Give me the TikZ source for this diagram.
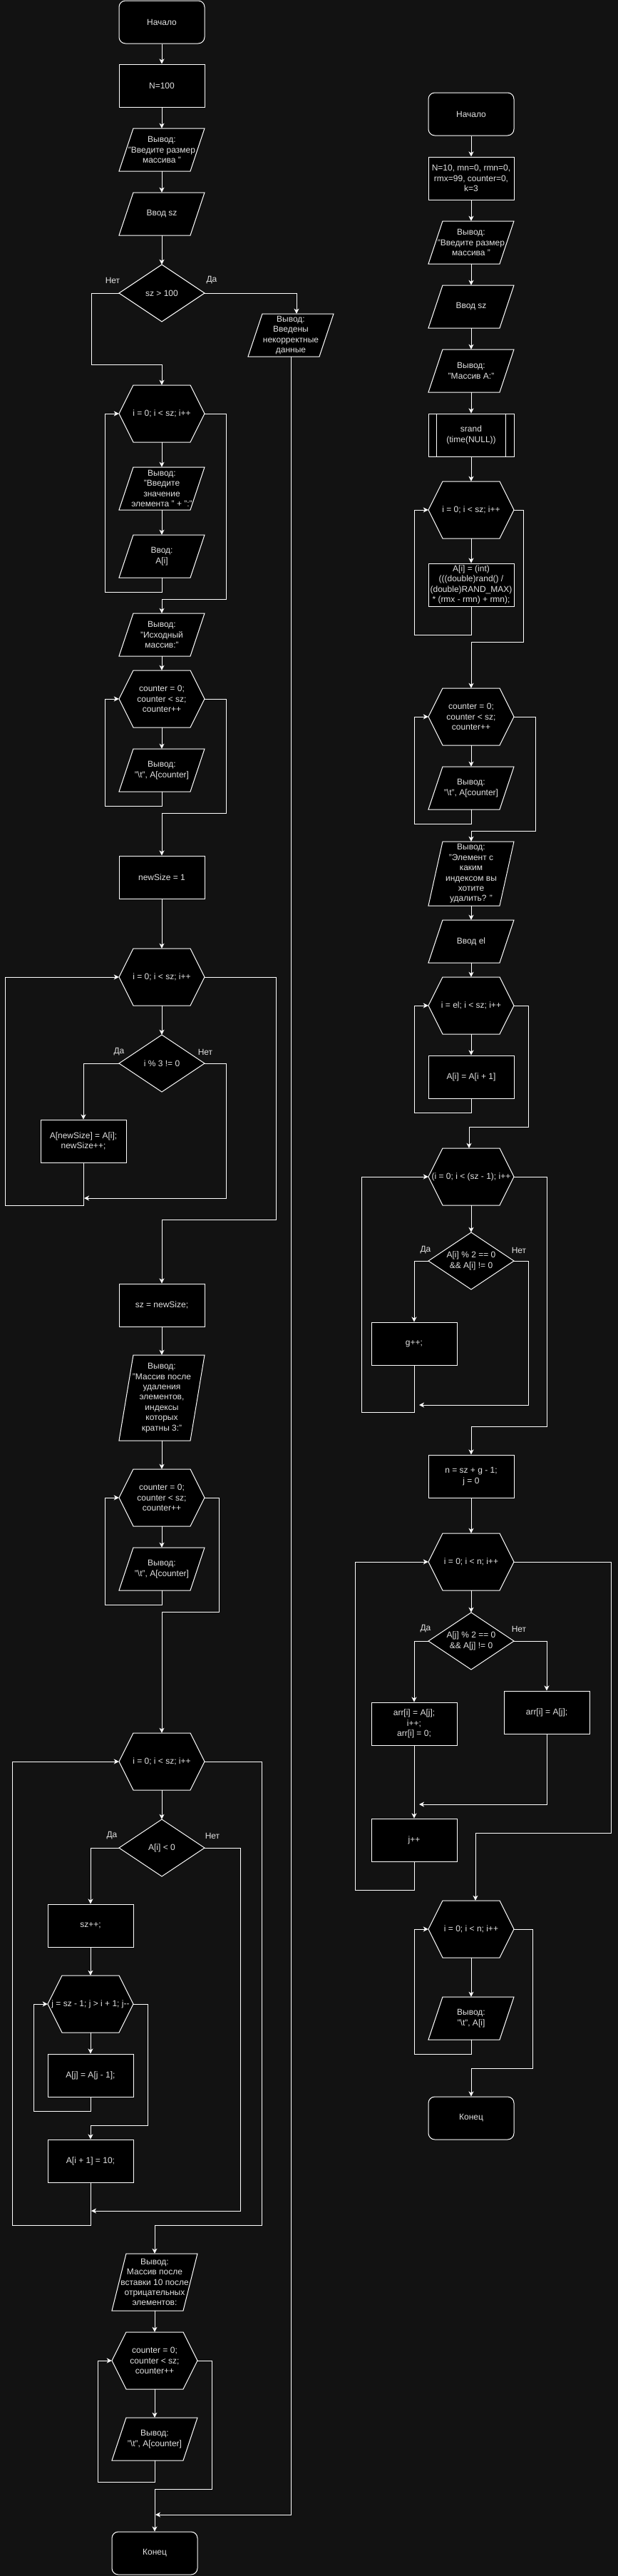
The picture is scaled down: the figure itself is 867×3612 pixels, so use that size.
\documentclass[tikz,border=0pt]{standalone}
\usepackage{fontspec}
\setmainfont{Liberation Sans}
\usetikzlibrary{arrows.meta}
\definecolor{bgc}{HTML}{121212}
\definecolor{txtc}{HTML}{E2E2E2}
\tikzset{
  shp/.style={draw=white, fill=black, line width=1pt},
  txt/.style={text=txtc, font=\fontsize{12}{14.4}\selectfont, align=center, inner sep=0pt},
  arr/.style={draw=white, line width=1pt, -{Stealth[length=7pt,width=7pt,inset=2pt]}},
  ln/.style={draw=white, line width=1pt},
  lbl/.style={text=txtc, font=\fontsize{12}{14.4}\selectfont, inner sep=0pt}
}
\newcommand\fcterm[4]{\node[shp,txt,rounded corners=9pt,minimum width=120pt,minimum height=60pt] (#1) at (#2,#3) {#4};}
\newcommand\fcproc[4]{\node[shp,txt,minimum width=120pt,minimum height=60pt] (#1) at (#2,#3) {#4};}
\newcommand\fcsub[4]{\fcproc{#1}{#2}{#3}{#4}\draw[ln] ([xshift=12pt]#1.north west) -- ([xshift=12pt]#1.south west) ([xshift=-12pt]#1.north east) -- ([xshift=-12pt]#1.south east);}
\newcommand\fcio[5]{\path[shp] (#2-60,#3+#4/2) -- (#2+40,#3+#4/2) -- (#2+60,#3-#4/2) -- (#2-40,#3-#4/2) -- cycle;
  \node[txt,minimum width=120pt,minimum height=#4pt] (#1) at (#2,#3) {#5};}
\newcommand\fchex[5]{\path[shp] (#2-60,#3) -- (#2-40,#3-#4/2) -- (#2+40,#3-#4/2) -- (#2+60,#3) -- (#2+40,#3+#4/2) -- (#2-40,#3+#4/2) -- cycle;
  \node[txt,minimum width=120pt,minimum height=#4pt] (#1) at (#2,#3) {#5};}
\newcommand\fcdia[5]{\path[shp] (#2-60,#3) -- (#2,#3-#4/2) -- (#2+60,#3) -- (#2,#3+#4/2) -- cycle;
  \node[txt,minimum width=120pt,minimum height=#4pt] (#1) at (#2,#3) {#5};}
\begin{document}
\begin{tikzpicture}[x=1pt,y=-1pt]
\useasboundingbox (0,0) rectangle (867,3612);
\fill[bgc] (0,0) rectangle (867,3612);

% ---------- left column ----------
\fcterm{L1}{227}{31}{Начало}
\fcproc{L2}{227}{120}{N=100}
\fcio{L3}{227}{210}{60}{Вывод:\\"Введите размер\\массива "}
\fcio{L4}{227}{300}{60}{Ввод sz}
\fcdia{L5}{227}{411}{80}{sz > 100}
\fcio{Lerr}{408}{470}{60}{Вывод:\\Введены\\некорректные\\данные}
\fchex{L6}{227}{580}{80}{i = 0; i < sz; i++}
\fcio{L7}{227}{685}{60}{Вывод:\\"Введите\\значение\\элемента " + ":"}
\fcio{L8}{227}{780}{60}{Ввод:\\A[i]}
\fcio{L9}{227}{890}{60}{Вывод:\\"Исходный\\массив:"}
\fchex{L10}{227}{980}{80}{counter = 0;\\counter < sz;\\counter++}
\fcio{L11}{227}{1080}{60}{Вывод:\\"\textbackslash t", A[counter]}
\fcproc{L12}{227}{1230}{newSize = 1}
\fchex{L13}{227}{1370}{80}{i = 0; i < sz; i++}
\fcdia{L14}{227}{1491}{80}{i \% 3 != 0}
\fcproc{L15}{117}{1600}{A[newSize] = A[i];\\newSize++;}
\fcproc{L16}{227}{1830}{sz = newSize;}
\fcio{L17}{227}{1960}{120}{Вывод:\\"Массив после\\удаления\\элементов,\\индексы\\которых\\кратны 3:"}
\fchex{L18}{227}{2100}{80}{counter = 0;\\counter < sz;\\counter++}
\fcio{L19}{227}{2200}{60}{Вывод:\\"\textbackslash t", A[counter]}
\fchex{L20}{227}{2470}{80}{i = 0; i < sz; i++}
\fcdia{L21}{227}{2591}{80}{A[i] < 0}
\fcproc{L22}{127}{2700}{sz++;}
\fchex{L23}{127}{2810}{80}{j = sz - 1; j > i + 1; j-{}-}
\fcproc{L24}{127}{2910}{A[j] = A[j - 1];}
\fcproc{L25}{127}{3030}{A[i + 1] = 10;}
\fcio{L26}{217}{3200}{80}{Вывод:\\Массив после\\вставки 10 после\\отрицательных\\элементов:}
\fchex{L27}{217}{3310}{80}{counter = 0;\\counter < sz;\\counter++}
\fcio{L28}{217}{3420}{60}{Вывод:\\"\textbackslash t", A[counter]}
\fcterm{L29}{217}{3580}{Конец}

\draw[arr] (L1.south) -- (L2.north);
\draw[arr] (L2.south) -- (L3.north);
\draw[arr] (L3.south) -- (L4.north);
\draw[arr] (L4.south) -- (L5.north);
\draw[arr] (L5.west) -| (128,511) -| (L6.north);
\draw[arr] (L5.east) -| ([xshift=8pt]Lerr.north);
\node[lbl] (t1) at (158,393) {Нет};
\node[lbl] (t2) at (297,393) {Да};
\draw[arr] (L6.south) -- (L7.north);
\draw[arr] (L7.south) -- (L8.north);
\draw[arr] (L8.south) |- (147,830) |- (L6.west);
\draw[arr] (L6.east) -| (317,840) -| (L9.north);
\draw[arr] (L9.south) -- (L10.north);
\draw[arr] (L10.south) -- (L11.north);
\draw[arr] (L11.south) |- (147,1130) |- (L10.west);
\draw[arr] (L10.east) -| (317,1140) -| (L12.north);
\draw[arr] (L12.south) -- (L13.north);
\draw[arr] (L13.south) -- (L14.north);
\draw[arr] (L14.west) -| (L15.north);
\node[lbl] (t3) at (167,1475) {Да};
\node[lbl] (t4) at (288,1475) {Нет};
\coordinate (m1) at (118,1680);
\draw[arr] (L14.east) -| (317,1680) -- (m1);
\draw[arr] (L15.south) |- (7,1690) |- (L13.west);
\draw[arr] (L13.east) -| (387,1710) -| (L16.north);
\draw[arr] (L16.south) -- (L17.north);
\draw[arr] (L17.south) -- (L18.north);
\draw[arr] (L18.south) -- (L19.north);
\draw[arr] (L19.south) |- (147,2250) |- (L18.west);
\draw[arr] (L18.east) -| (307,2260) -| (L20.north);
\draw[arr] (L20.south) -- (L21.north);
\draw[arr] (L21.west) -| (L22.north);
\node[lbl] (t5) at (157,2574) {Да};
\node[lbl] (t6) at (298,2574) {Нет};
\coordinate (m2) at (128,3100);
\draw[arr] (L21.east) -| (337,3100) -- (m2);
\draw[arr] (L22.south) -- (L23.north);
\draw[arr] (L23.south) -- (L24.north);
\draw[arr] (L24.south) |- (47,2960) |- (L23.west);
\draw[arr] (L23.east) -| (207,2980) -| (L25.north);
\draw[arr] (L25.south) |- (17,3120) |- (L20.west);
\draw[arr] (L20.east) -| (367,3120) -| (L26.north);
\draw[arr] (L26.south) -- (L27.north);
\draw[arr] (L27.south) -- (L28.north);
\draw[arr] (L28.south) |- (137,3480) |- (L27.west);
\draw[arr] (L27.east) -| (297,3490) -| (L29.north);
\coordinate (m3) at (218,3526);
\draw[arr] (Lerr.south) |- (m3);

% ---------- right column ----------
\fcterm{R1}{661}{160}{Начало}
\fcproc{R2}{661}{250}{N=10, mn=0, rmn=0,\\rmx=99, counter=0,\\k=3}
\fcio{R3}{661}{340}{60}{Вывод:\\"Введите размер\\массива "}
\fcio{R4}{661}{430}{60}{Ввод sz}
\fcio{R5}{661}{520}{60}{Вывод:\\"Массив A:"}
\fcsub{R6}{661}{610}{srand\\(time(NULL))}
\fchex{R7}{661}{715}{80}{i = 0; i < sz; i++}
\fcproc{R8}{661}{820}{A[i] = (int)\\(((double)rand() /\\(double)RAND\_MAX)\\* (rmx - rmn) + rmn);}
\fchex{R9}{661}{1005}{80}{counter = 0;\\counter < sz;\\counter++}
\fcio{R10}{661}{1105}{60}{Вывод:\\"\textbackslash t", A[counter]}
\fcio{R11}{661}{1225}{90}{Вывод:\\"Элемент с\\каким\\индексом вы\\хотите\\удалить? "}
\fcio{R12}{661}{1320}{60}{Ввод el}
\fchex{R13}{661}{1410}{80}{i = el; i < sz; i++}
\fcproc{R14}{661}{1510}{A[i] = A[i + 1]}
\fchex{R15}{661}{1650}{80}{(i = 0; i < (sz - 1); i++}
\fcdia{R16}{661}{1768}{80}{A[i] \% 2 == 0\\\&\& A[i] != 0}
\fcproc{R17}{581}{1884}{g++;}
\fcproc{R18}{661}{2070}{n = sz + g - 1;\\j = 0}
\fchex{R19}{661}{2190}{80}{i = 0; i < n; i++}
\fcdia{R20}{661}{2301}{80}{A[j] \% 2 == 0\\\&\& A[j] != 0}
\fcproc{R21}{581}{2417}{arr[i] = A[j];\\i++;\\arr[i] = 0;}
\fcproc{R22}{767}{2401}{arr[i] = A[j];}
\fcproc{R23}{581}{2580}{j++}
\fchex{R24}{661}{2705}{80}{i = 0; i < n; i++}
\fcio{R25}{661}{2830}{60}{Вывод:\\"\textbackslash t", A[i]}
\fcterm{R26}{661}{2970}{Конец}

\draw[arr] (R1.south) -- (R2.north);
\draw[arr] (R2.south) -- (R3.north);
\draw[arr] (R3.south) -- (R4.north);
\draw[arr] (R4.south) -- (R5.north);
\draw[arr] (R5.south) -- (R6.north);
\draw[arr] (R6.south) -- (R7.north);
\draw[arr] (R7.south) -- (R8.north);
\draw[arr] (R8.south) |- (581,890) |- (R7.west);
\draw[arr] (R7.east) -| (734,900) -| (R9.north);
\draw[arr] (R9.south) -- (R10.north);
\draw[arr] (R10.south) |- (581,1155) |- (R9.west);
\draw[arr] (R9.east) -| (751,1165) -| (R11.north);
\draw[arr] (R11.south) -- (R12.north);
\draw[arr] (R12.south) -- (R13.north);
\draw[arr] (R13.south) -- (R14.north);
\draw[arr] (R14.south) |- (581,1560) |- (R13.west);
\draw[arr] (R13.east) -| (741,1580) -| ([xshift=-3pt]R15.north);
\draw[arr] (R15.south) -- (R16.north);
\draw[arr] (R16.west) -| (R17.north);
\node[lbl] (t7) at (597,1753) {Да};
\node[lbl] (t8) at (728,1753) {Нет};
\coordinate (m4) at (588,1970);
\draw[arr] (R16.east) -| (741,1970) -- (m4);
\draw[arr] (R17.south) |- (507,1980) |- (R15.west);
\draw[arr] (R15.east) -| (767,2000) -| (R18.north);
\draw[arr] (R18.south) -- (R19.north);
\draw[arr] (R19.south) -- (R20.north);
\draw[arr] (R20.west) -| (R21.north);
\draw[arr] (R20.east) -| (R22.north);
\node[lbl] (t9) at (597,2284) {Да};
\node[lbl] (t10) at (728,2284) {Нет};
\coordinate (m5) at (588,2530);
\draw[arr] (R22.south) |- (m5);
\draw[arr] (R21.south) -- (R23.north);
\draw[arr] (R23.south) |- (498,2650) |- (R19.west);
\draw[arr] (R19.east) -| (857,2570) -| ([xshift=6pt]R24.north);
\draw[arr] (R24.south) -- (R25.north);
\draw[arr] (R25.south) |- (581,2880) |- (R24.west);
\draw[arr] (R24.east) -| (747,2900) -| (R26.north);
\end{tikzpicture}
\end{document}
